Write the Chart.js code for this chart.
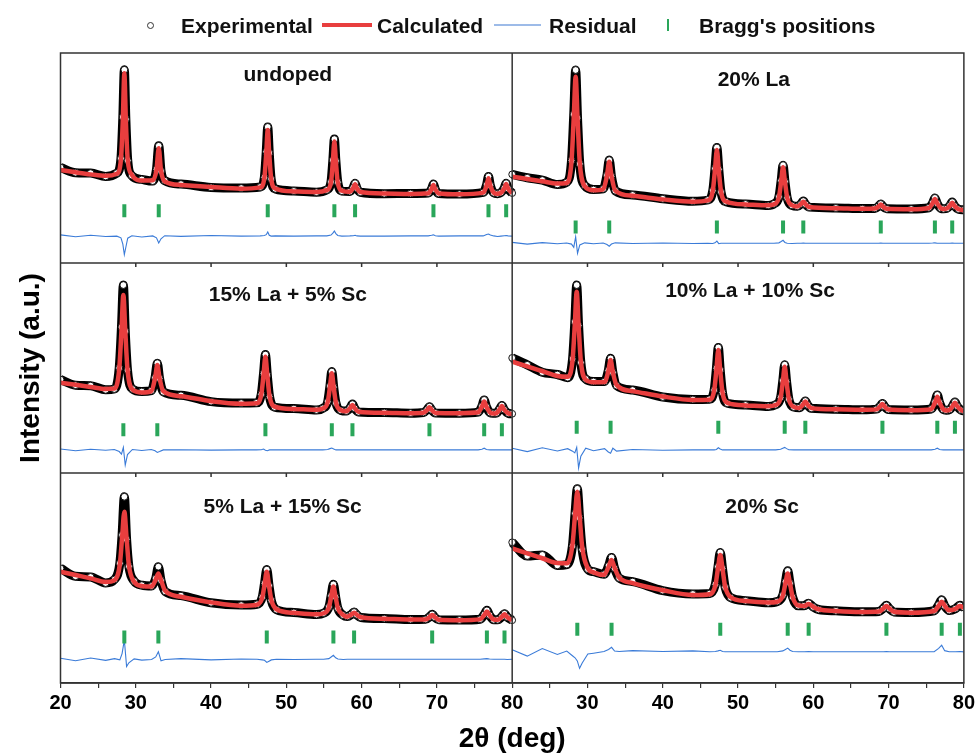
<!DOCTYPE html>
<html>
<head>
<meta charset="utf-8">
<title>Rietveld refinement</title>
<script src="https://cdn.jsdelivr.net/npm/chart.js@4.4.1/dist/chart.umd.min.js"></script>
<style>
  html, body { margin: 0; padding: 0; background: #fff; }
  #wrap { position: relative; width: 978px; height: 753px; font-family: "Liberation Sans", Arial, sans-serif; }
  #chartBox { position: absolute; left: 0; top: 0; width: 978px; height: 753px; }
  .lg { position: absolute; font-weight: bold; font-size: 21px; line-height: 21px; top: 15px; color: #111; white-space: nowrap; }
  .mk { position: absolute; }
</style>
</head>
<body>
<div id="wrap">
  <div id="chartBox"><canvas id="xrdChart"></canvas></div>
  <!-- legend -->
  <div class="mk" style="left:147px;top:22px;width:5px;height:5px;border:1px solid #333;border-radius:50%;"></div>
  <div class="lg" style="left:181px;">Experimental</div>
  <div class="mk" style="left:322px;top:23px;width:50px;height:4px;background:#e83e3e;"></div>
  <div class="lg" style="left:377px;">Calculated</div>
  <div class="mk" style="left:494px;top:24px;width:47px;height:1.5px;background:#9dbbe8;"></div>
  <div class="lg" style="left:549px;">Residual</div>
  <div class="mk" style="left:667px;top:19px;width:2px;height:12px;background:#2aa65a;"></div>
  <div class="lg" style="left:699px;">Bragg's positions</div>
</div>
<script>
// --- Data: undoped ---
const undopedX = [20,22,24,26, 27.48,28.03,28.28,28.48,28.68,28.93,29.48, 30.8, 32.25,32.75,33.05,33.35,33.85, 36,40,44, 46.53,47.08,47.33,47.53,47.73,47.98,48.53, 51,54, 55.38,55.93,56.18,56.38,56.58,56.83,57.38, 58.43,58.88,59.13,59.38,59.83, 63,66.5, 68.84,69.29,69.54,69.79,70.24, 73, 76.15,76.6,76.85,77.1,77.55, 78.05, 78.5,78.95,79.2,79.45,80];
const undopedCalc = [44.3,43.2,42.2,41.5, 42.5,49.4,68.2,90.3,68.0,49.0,42.0, 39.3, 39.4,44.3,54.6,44.0,38.9, 37.2,36.2,35.4, 36.0,40.5,52.2,63.3,52.0,40.3,35.5, 34.1,33.8, 34.7,38.4,48.4,57.8,48.2,38.3,34.4, 33.9,35.7,37.5,35.6,33.8, 33.1,32.9, 33.2,35.2,37.1,35.1,33.1, 32.7, 33.5,36.9,40.3,36.8,33.5, 33.0, 33.4,35.5,37.6,35.5,33.2];
const undopedObs = [45.5,43.0,42.8,41.2, 42.8,49.8,69.5,92.0,68.5,48.8,41.6, 39.8, 39.0,44.6,55.8,43.8,39.2, 37.6,36.0,35.7, 36.2,40.8,53.0,64.8,52.4,40.0,35.3, 34.3,33.7, 34.8,38.6,49.0,59.0,48.6,38.5,34.2, 34.0,35.9,38.0,35.6,33.7, 33.0,33.1, 33.3,35.3,37.6,35.0,33.1, 32.8, 33.6,37.2,41.2,36.9,33.4, 33.0, 33.5,35.7,38.0,35.4,33.3];
const undopedResid = [13.4,12.5,13.2,12.6, 12.8,12.0,9.0,4.0,7.5,11.8,13.0, 12.4, 12.9,12.0,9.5,11.5,13.0, 12.7,13.1,12.8, 12.9,13.1,13.5,14.8,13.2,12.8,12.9, 12.8,12.9, 12.9,13.3,14.2,15.2,14.0,13.1,12.8, 12.9,13.0,13.2,12.9,12.8, 12.8,12.9, 12.9,13.2,13.4,13.0,12.8, 12.9, 12.9,13.6,13.8,13.3,12.9, 12.6, 12.8,13.0,13.1,12.9,12.8];
const undopedBragg = [28.48,33.05,47.53,56.38,59.13,69.54,76.85,79.2];

// --- Data: 20% La ---
const la20X = [20,22,24,26, 27.23,27.88,28.18,28.43,28.68,28.98,29.63, 30.8, 32.09,32.59,32.89,33.19,33.69, 36,40,44, 45.99,46.64,46.94,47.19,47.44,47.74,48.39, 51,54, 54.78,55.43,55.73,55.98,56.23,56.53,57.18, 57.87,58.37,58.67,58.97,59.47, 63,66.5, 68.16,68.66,68.96,69.26,69.76, 73, 75.35,75.85,76.15,76.45,76.95, 77.3, 77.75,78.15,78.45,78.75,79.3, 80];
const la20Calc = [41.1,40.0,38.9,37.8, 38.1,48.4,69.6,88.7,69.2,47.6,36.6, 34.6, 35.1,41.6,48.2,41.4,34.5, 32.0,30.3,29.2, 29.8,34.2,44.4,53.8,44.3,34.0,29.3, 27.9,27.5, 28.0,31.3,38.8,45.6,38.7,31.1,27.5, 26.9,28.1,29.2,28.0,26.7, 26.1,25.8, 25.9,26.9,27.9,26.8,25.8, 25.6, 26.2,28.5,30.5,28.4,26.1, 25.7, 26.0,27.3,28.7,27.2,25.6, 25.2];
const la20Obs = [42.2,40.6,39.5,37.4, 38.4,48.8,70.8,91.9,69.0,47.2,36.9, 35.0, 35.3,41.8,49.0,41.2,34.4, 32.4,30.6,29.4, 30.0,34.4,45.0,55.0,44.6,33.8,29.2, 28.1,27.4, 28.2,31.5,39.2,46.6,38.8,31.0,27.4, 27.0,28.2,29.5,28.0,26.6, 26.2,25.9, 26.0,27.0,28.1,26.8,25.8, 25.7, 26.3,28.6,31.0,28.4,26.0, 25.8, 26.0,27.4,29.0,27.2,25.6, 25.3];
const la20Resid = [9.8,9.0,9.7,9.2, 9.5,9.0,7.5,12.5,4.6,8.6,9.6, 9.2, 9.5,8.8,8.0,9.0,9.6, 9.3,9.5,9.3, 9.4,9.3,9.6,10.4,9.2,9.4,9.4, 9.4,9.4, 9.4,9.6,10.2,10.8,9.8,9.4,9.3, 9.4,9.4,9.5,9.4,9.4, 9.4,9.4, 9.4,9.4,9.5,9.4,9.4, 9.4, 9.4,9.5,9.6,9.4,9.4, 9.4, 9.4,9.4,9.5,9.4,9.4, 9.4];
const la20Bragg = [28.43,32.89,47.19,55.98,58.67,68.96,76.15,78.45];

// --- Data: 15% La + 5% Sc ---
const la15sc5X = [20,22,24,26, 27.15,27.8,28.1,28.35,28.6,28.9,29.55, 30.8, 32.06,32.56,32.86,33.16,33.66, 36,40,44, 46.02,46.67,46.97,47.22,47.47,47.77,48.42, 51,54, 54.84,55.49,55.79,56.04,56.29,56.59,57.24, 57.98,58.48,58.78,59.08,59.58, 63,66.5, 68.21,68.71,69.01,69.31,69.81, 73, 75.48,75.98,76.28,76.58,77.08, 77.45, 77.93,78.33,78.63,78.93,79.5, 80];
const la15sc5Calc = [43.0,42.0,41.0,40.0, 40.2,49.5,68.0,84.8,67.9,49.3,39.8, 38.3, 39.0,45.2,51.4,45.1,38.9, 36.6,34.2,33.0, 33.2,37.3,46.8,55.4,46.5,36.6,31.6, 30.5,30.1, 30.7,33.7,40.9,47.5,40.8,33.4,29.9, 29.4,31.0,32.4,30.9,29.2, 28.7,28.5, 28.7,30.1,31.3,30.0,28.6, 28.5, 28.9,31.6,34.0,31.5,28.8, 28.3, 28.6,30.3,31.9,30.2,28.4, 28.1];
const la15sc5Obs = [44.5,41.8,41.6,39.6, 40.0,50.0,69.5,89.5,67.5,49.0,40.0, 38.8, 39.2,45.4,52.3,45.0,38.6, 37.0,34.0,33.3, 33.4,37.5,47.4,56.4,46.6,36.4,31.4, 30.7,30.0, 30.8,33.9,41.4,48.3,40.9,33.3,29.8, 29.5,31.1,32.8,30.8,29.1, 28.8,28.5, 28.8,30.2,31.6,30.0,28.6, 28.5, 29.0,31.8,34.8,31.5,28.7, 28.4, 28.6,30.4,32.2,30.2,28.4, 28.2];
const la15sc5Resid = [11.4,10.6,11.3,10.8, 11.2,10.2,9.0,12.2,3.8,8.8,11.2, 10.7, 11.2,10.6,9.8,10.2,11.0, 11.1,10.9,11.0, 11.0,11.1,11.4,10.8,10.6,11.0,11.0, 11.0,11.0, 11.0,11.2,11.6,11.9,11.4,11.0,11.0, 11.0,11.0,11.1,11.0,11.0, 11.0,11.0, 11.0,11.0,11.1,11.0,11.0, 11.0, 11.0,11.3,11.8,11.2,11.0, 11.0, 11.0,11.0,11.1,11.0,11.0, 11.0];
const la15sc5Bragg = [28.35,32.86,47.22,56.04,58.78,69.01,76.28,78.63];

// --- Data: 10% La + 10% Sc ---
const la10sc10X = [20,22,24,26, 27.37,28.02,28.32,28.57,28.82,29.12,29.77, 30.8, 32.27,32.77,33.07,33.37,33.87, 36,40,44, 46.18,46.83,47.13,47.38,47.63,47.93,48.58, 51,54, 55.0,55.65,55.95,56.2,56.45,56.75,57.4, 58.14,58.64,58.94,59.24,59.74, 63,66.5, 68.38,68.88,69.18,69.48,69.98, 73, 75.67,76.17,76.47,76.77,77.27, 77.65, 78.11,78.51,78.81,79.11,79.65, 80];
const la10sc10Calc = [53.0,50.8,48.5,46.2, 45.8,53.8,70.9,86.3,70.6,53.2,44.4, 43.2, 43.3,48.5,53.8,48.1,41.9, 39.0,36.4,34.8, 34.9,39.3,49.3,58.6,49.0,38.5,33.4, 32.2,31.8, 32.4,35.7,43.5,50.6,43.3,35.3,31.5, 31.0,32.6,34.0,32.5,30.9, 30.3,30.1, 30.3,31.7,32.9,31.6,30.2, 29.9, 30.4,33.6,36.3,33.5,30.3, 29.8, 30.1,31.9,33.5,31.8,29.9, 29.5];
const la10sc10Obs = [54.8,51.5,48.0,46.9, 45.4,54.3,72.0,89.5,70.2,52.6,44.8, 43.6, 43.6,48.8,54.6,47.9,41.6, 39.5,36.2,35.0, 35.1,39.5,49.9,59.8,49.1,38.3,33.2, 32.4,31.7, 32.5,35.9,44.0,51.6,43.4,35.2,31.4, 31.1,32.7,34.3,32.4,30.8, 30.4,30.1, 30.4,31.8,33.1,31.6,30.2, 30.0, 30.5,33.8,37.2,33.5,30.2, 29.9, 30.2,32.0,33.8,31.8,29.9, 29.6];
const la10sc10Resid = [11.8,10.2,12.0,10.5, 11.6,10.4,9.6,12.2,2.4,8.0,11.8, 10.6, 11.6,10.0,9.4,11.8,10.4, 11.2,10.8,11.0, 11.0,11.0,11.2,12.0,11.4,11.0,11.0, 11.0,11.0, 11.0,11.3,11.8,12.2,11.6,11.1,11.0, 11.0,11.0,11.1,11.0,11.0, 11.0,11.0, 11.0,11.0,11.0,11.0,11.0, 11.0, 11.0,11.3,11.8,11.2,11.0, 11.0, 11.0,11.0,11.0,11.0,11.0, 11.0];
const la10sc10Bragg = [28.57,33.07,47.38,56.2,58.94,69.18,76.47,78.81];

// --- Data: 5% La + 15% Sc ---
const la5sc15X = [20,22,24,26, 27.18,27.88,28.18,28.48,28.78,29.08,29.78, 30.8, 32.1,32.65,33.0,33.35,33.9, 36,40,44, 46.1,46.8,47.1,47.4,47.7,48.0,48.7, 51,54, 54.95,55.65,55.95,56.25,56.55,56.85,57.55, 58.1,58.65,59.0,59.35,59.9, 63,66.5, 68.47,69.02,69.37,69.72,70.27, 73, 75.74,76.29,76.64,76.99,77.54, 78.08,78.63,78.98,79.33,80];
const la5sc15Calc = [53.0,51.4,49.8,48.1, 49.0,56.5,69.1,81.6,68.9,56.2,48.2, 46.2, 45.9,49.3,52.2,49.0,43.9, 41.1,38.4,36.8, 37.3,40.6,46.8,53.0,46.3,39.6,35.1, 33.4,32.7, 33.2,36.0,41.0,45.9,40.8,35.6,32.4, 31.6,32.6,33.5,32.5,31.3, 30.6,30.2, 30.2,31.4,32.4,31.4,30.1, 29.9, 30.3,32.4,34.0,32.3,30.2, 30.1,31.5,32.7,31.4,29.9];
const la5sc15Obs = [54.6,50.8,50.5,47.6, 49.3,57.0,70.5,88.7,68.4,55.6,48.5, 46.6, 46.2,49.8,55.4,48.8,43.6, 41.6,38.2,37.1, 37.5,40.9,47.4,54.0,46.4,39.4,34.9, 33.6,32.6, 33.3,36.2,41.5,47.0,40.9,35.5,32.3, 31.7,32.7,33.8,32.5,31.2, 30.7,30.2, 30.3,31.5,32.7,31.3,30.1, 30.0, 30.4,32.6,34.6,32.3,30.1, 30.1,31.6,33.0,31.4,29.9];
const la5sc15Resid = [11.8,10.6,11.9,10.8, 11.6,11.0,14.0,20.5,7.8,9.6,11.5, 10.9, 11.2,12.4,14.9,10.6,11.2, 11.6,11.0,11.4, 11.3,11.0,10.8,9.8,10.4,11.0,11.3, 11.2,11.3, 11.3,11.6,12.4,13.2,12.0,11.4,11.2, 11.3,11.3,11.3,11.3,11.3, 11.3,11.3, 11.3,11.3,11.3,11.3,11.3, 11.3, 11.3,11.5,11.6,11.4,11.3, 11.3,11.3,11.3,11.2,11.3];
const la5sc15Bragg = [28.48,33.0,47.4,56.25,59.0,69.37,76.64,78.98];

// --- Data: 20% Sc ---
const sc20X = [20,22,24,26, 27.25,28.0,28.35,28.65,28.95,29.3,30.05, 30.8, 32.2,32.8,33.2,33.6,34.2, 36,40,44, 46.24,46.99,47.34,47.64,47.94,48.29,49.04, 51,54, 55.2,55.95,56.3,56.6,56.9,57.25,58.0, 58.78,59.38,59.98,60.7, 63,66.5, 68.71,69.31,69.71,70.11,70.71, 73, 76.05,76.65,77.05,77.45,78.05, 78.87,79.47,80];
const sc20Calc = [64.1,61.7,59.4,57.1, 57.0,65.6,80.1,91.1,79.7,64.7,54.6, 52.7, 51.5,55.3,58.6,54.9,50.2, 47.6,44.2,41.9, 42.3,46.5,54.7,61.0,54.4,45.8,40.8, 39.0,38.3, 38.7,41.6,47.6,52.2,47.4,41.0,36.9, 36.7,37.6,36.3,35.1, 34.3,33.8, 34.0,35.5,36.7,35.5,33.9, 33.5, 34.3,36.8,38.7,36.8,34.6, 35.3,36.7,35.8];
const sc20Obs = [67.0,60.5,61.0,56.0, 56.4,65.2,80.8,92.5,78.6,63.5,54.2, 53.0, 51.8,55.8,59.8,54.6,50.0, 48.3,44.0,42.4, 42.6,47.0,55.4,62.2,54.5,45.6,40.6, 39.2,38.2, 38.8,41.8,48.2,53.4,47.5,40.9,36.8, 36.8,38.0,36.2,35.0, 34.4,33.9, 34.1,35.6,37.0,35.4,33.8, 33.6, 34.4,37.2,39.6,36.7,34.5, 35.4,37.0,35.9];
const sc20Resid = [15.8,12.8,16.4,13.6, 15.2,13.0,12.0,10.5,7.0,9.5,13.8, 14.2, 15.0,16.0,17.0,15.2,15.0, 15.4,15.0,15.3, 14.9,15.0,15.3,15.6,15.0,14.9,14.9, 14.9,14.9, 14.9,15.3,16.0,16.6,15.6,15.0,14.9, 14.9,15.0,14.9,14.9, 14.9,14.9, 14.9,14.9,15.0,14.9,14.9, 14.9, 14.9,16.5,18.0,15.4,14.9, 14.9,15.0,14.8];
const sc20Bragg = [28.65,33.2,47.64,56.6,59.38,69.71,77.05,79.47];

// Level (intensity) at which the Bragg ticks sit in each panel
const braggLevels = [24.9, 17.1, 20.6, 21.8, 21.9, 25.6];
const panelTitles = ['undoped', '20% La', '15% La + 5% Sc', '10% La + 10% Sc', '5% La + 15% Sc', '20% Sc'];
const xTickValues = [20, 30, 40, 50, 60, 70, 80];

// --- Panel layout (column 0/1, row 2 = top) ---
const panels = [
  { x: undopedX, calc: undopedCalc, obs: undopedObs, resid: undopedResid, bragg: undopedBragg, col: 0, row: 2, tx: 50.2, ty: 89.5 },
  { x: la20X, calc: la20Calc, obs: la20Obs, resid: la20Resid, bragg: la20Bragg, col: 1, row: 2, tx: 52.1, ty: 87.1 },
  { x: la15sc5X, calc: la15sc5Calc, obs: la15sc5Obs, resid: la15sc5Resid, bragg: la15sc5Bragg, col: 0, row: 1, tx: 50.2, ty: 84.8 },
  { x: la10sc10X, calc: la10sc10Calc, obs: la10sc10Obs, resid: la10sc10Resid, bragg: la10sc10Bragg, col: 1, row: 1, tx: 51.6, ty: 86.7 },
  { x: la5sc15X, calc: la5sc15Calc, obs: la5sc15Obs, resid: la5sc15Resid, bragg: la5sc15Bragg, col: 0, row: 0, tx: 49.5, ty: 83.8 },
  { x: sc20X, calc: sc20Calc, obs: sc20Obs, resid: sc20Resid, bragg: sc20Bragg, col: 1, row: 0, tx: 53.2, ty: 83.8 }
];
const X_SPAN = 60;   // 2-theta range of a column
const Y_SPAN = 100;  // intensity range of a row

const RED = '#e83e3e';
const BLUE = '#3a7bd8';
const GREEN = '#2aa65a';
const FONT = '"Liberation Sans", Arial, sans-serif';

// --- Build datasets ---
function pts(xs, ys, p) {
  return xs.map((v, i) => ({ x: v + p.col * X_SPAN, y: ys[i] + p.row * Y_SPAN }));
}

const datasets = [];
panels.forEach((p, i) => {
  datasets.push({
    label: 'Experimental', data: pts(p.x, p.obs, p), order: 4,
    showLine: true, borderColor: '#000', borderWidth: 9, cubicInterpolationMode: 'monotone',
    pointRadius: 3.4, pointBackgroundColor: '#fff', pointBorderColor: '#111', pointBorderWidth: 1
  });
  datasets.push({
    label: 'Calculated', data: pts(p.x, p.calc, p), order: 3,
    showLine: true, borderColor: RED, borderWidth: 4.5, cubicInterpolationMode: 'monotone', pointRadius: 0
  });
  datasets.push({
    label: 'Residual', data: pts(p.x, p.resid, p), order: 2,
    showLine: true, borderColor: BLUE, borderWidth: 1.1, pointRadius: 0
  });
  datasets.push({
    label: "Bragg's positions", data: pts(p.bragg, p.bragg.map(() => braggLevels[i]), p), order: 1,
    showLine: false, pointStyle: 'line', rotation: 90, radius: 6.5, borderColor: GREEN, borderWidth: 4
  });
});

// --- Frames, dividers and panel titles ---
const framePlugin = {
  id: 'frames',
  afterDatasetsDraw(chart) {
    const { ctx, chartArea: a, scales: { x, y } } = chart;
    ctx.save();
    ctx.strokeStyle = '#333';
    ctx.lineWidth = 1.5;
    ctx.strokeRect(a.left, a.top, a.right - a.left, a.bottom - a.top);
    ctx.beginPath();
    const xm = x.getPixelForValue(X_SPAN + 20);
    ctx.moveTo(xm, a.top); ctx.lineTo(xm, a.bottom);
    [Y_SPAN, 2 * Y_SPAN].forEach(v => {
      const yy = y.getPixelForValue(v);
      ctx.moveTo(a.left, yy); ctx.lineTo(a.right, yy);
      // short outward ticks of the upper panel
      [0, 1].forEach(c => xTickValues.slice(1, -1).forEach(t => {
        const xx = x.getPixelForValue(t + c * X_SPAN);
        ctx.moveTo(xx, yy); ctx.lineTo(xx, yy + 4);
      }));
    });
    ctx.stroke();

    ctx.fillStyle = '#111';
    ctx.font = 'bold 21px ' + FONT;
    ctx.textAlign = 'center';
    ctx.textBaseline = 'middle';
    panels.forEach((p, i) => {
      ctx.fillText(panelTitles[i], x.getPixelForValue(p.tx + p.col * X_SPAN), y.getPixelForValue(p.ty + p.row * Y_SPAN));
    });
    ctx.restore();
  }
};

new Chart(document.getElementById('xrdChart'), {
  type: 'scatter',
  data: { datasets },
  options: {
    responsive: true,
    maintainAspectRatio: false,
    animation: false,
    layout: { padding: { left: 0, right: 13, top: 53, bottom: 0 } },
    plugins: { legend: { display: false }, tooltip: { enabled: false } },
    scales: {
      x: {
        type: 'linear', min: 20, max: 20 + 2 * X_SPAN,
        afterFit: s => { s.height = 70; },
        ticks: {
          stepSize: 5, autoSkip: false, maxRotation: 0, padding: 3, color: '#000',
          font: { family: FONT, size: 20, weight: 'bold' },
          callback: v => (v % 10 !== 0 ? '' : (v <= 80 ? String(v) : String(v - X_SPAN)))
        },
        grid: { drawOnChartArea: false, drawTicks: true, tickLength: 5, color: '#333', lineWidth: 1.2 },
        border: { display: true, color: '#333', width: 1.5 },
        title: { display: true, text: '2θ (deg)', color: '#000', padding: 0,
          font: { family: FONT, size: 28, weight: 'bold', lineHeight: 1 } }
      },
      y: {
        type: 'linear', min: 0, max: 3 * Y_SPAN,
        afterFit: s => { s.width = 60.5; },
        ticks: { display: false },
        grid: { display: false },
        border: { display: false },
        title: { display: true, text: 'Intensity (a.u.)', color: '#000', padding: { top: 17, bottom: 0 },
          font: { family: FONT, size: 28, weight: 'bold', lineHeight: 1 } }
      }
    }
  },
  plugins: [framePlugin]
});
</script>
</body>
</html>
